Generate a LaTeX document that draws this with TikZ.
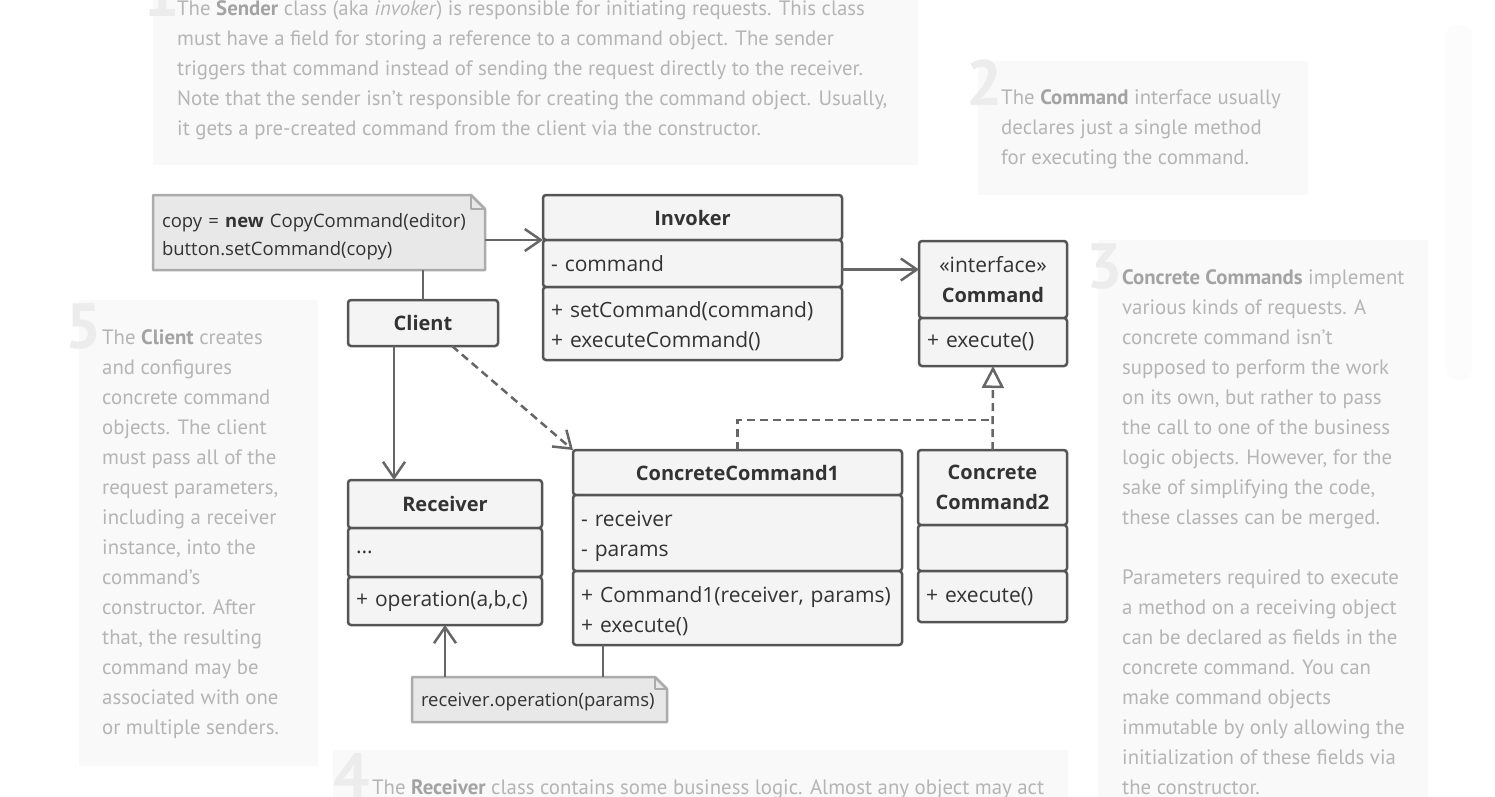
\documentclass[tikz,border=0pt]{standalone}
\usepackage{fontspec}
\setmainfont{Open Sans}
\newfontfamily\hintfont{PT Sans}
\usetikzlibrary{positioning,arrows.meta}

\definecolor{umlline}{HTML}{555555}
\definecolor{umlfill}{HTML}{F4F4F4}
\definecolor{umltext}{HTML}{333333}
\definecolor{memofill}{HTML}{E8E8E8}
\definecolor{memoline}{HTML}{ABABAB}
\definecolor{wireline}{HTML}{666666}
\definecolor{hintfill}{HTML}{F9F9F9}
\definecolor{hinttext}{HTML}{B5B5B5}
\definecolor{hintbold}{HTML}{A3A3A3}
\definecolor{hintnum}{HTML}{ECECEC}

\newcommand{\hintb}[1]{\textcolor{hintbold}{\textbf{#1}}}
\newcommand{\toprule}{\rule{0pt}{22pt}}

\tikzset{
  part/.style={draw=umlline, fill=umlfill, line width=2.5pt, rounded corners=3pt,
    anchor=north west, outer sep=0pt, inner xsep=8pt, inner ysep=0pt, text=umltext,
    font=\fontsize{21}{30}\selectfont},
  head/.style={part, align=center, font=\fontsize{20}{30}\selectfont\bfseries},
  body/.style={part, align=left},
  memo/.style={fill=memofill, anchor=north west, outer sep=0pt, inner xsep=9pt,
    inner ysep=0pt, align=left, text=umltext, font=\fontsize{18.5}{28}\selectfont},
  memoedge/.style={draw=memoline, line width=2.5pt, line join=round},
  wire/.style={draw=wireline, line width=2.5pt},
  assoc/.style={wire, -{Straight Barb[length=16pt,width=22pt]}},
  dep/.style={assoc, dash pattern=on 8pt off 5pt},
  real/.style={wire, dash pattern=on 8pt off 5pt},
  hintbox/.style={fill=hintfill},
  hint/.style={anchor=north west, inner sep=0pt, align=left, text=hinttext,
    font=\hintfont\fontsize{20.8}{30}\selectfont},
  hintno/.style={anchor=north west, inner sep=0pt, text=hintnum,
    font=\hintfont\bfseries\fontsize{64}{64}\selectfont}
}

\begin{document}
\begin{tikzpicture}[x=1pt,y=-1pt]
    \useasboundingbox (0,0) rectangle (1495,796);
    % Background hint boxes
    \fill[hintbox] (153,-10) rectangle (918,165);
    \fill[hintbox] (978,61) rectangle (1308,195);
    \fill[hintbox] (1098,240) rectangle (1428,810);
    \fill[hintbox] (333,750) rectangle (1068,810);
    \fill[hintbox] (79,300) rectangle (318,766);
    \fill[fill=hintfill!50!white, rounded corners=10pt] (1446,25) rectangle (1472,380);
    % Hint numbers
    \node[hintno] (no1) at (143,-29) {1};
    \node[hintno] (no2) at (966,60) {2};
    \node[hintno] (no3) at (1086,243) {3};
    \node[hintno] (no4) at (333,753) {4};
    \node[hintno] (no5) at (65,303) {5};
    % Hint texts
    \node[hint] (hint1) at (177,0.5) {The \hintb{Sender} class (aka \textit{invoker}) is responsible for initiating requests. This class\\
      must have a field for storing a reference to a command object. The sender\\
      triggers that command instead of sending the request directly to the receiver.\\
      Note that the sender isn’t responsible for creating the command object. Usually,\\
      it gets a pre-created command from the client via the constructor.};
    \node[hint] (hint2) at (1001,89.5) {The \hintb{Command} interface usually\\
      declares just a single method\\
      for executing the command.};
    \node[hint] (hint3) at (1122,269.5) {\hintb{Concrete Commands} implement\\
      various kinds of requests. A\\
      concrete command isn’t\\
      supposed to perform the work\\
      on its own, but rather to pass\\
      the call to one of the business\\
      logic objects. However, for the\\
      sake of simplifying the code,\\
      these classes can be merged.\\[30pt]
      Parameters required to execute\\
      a method on a receiving object\\
      can be declared as fields in the\\
      concrete command. You can\\
      make command objects\\
      immutable by only allowing the\\
      initialization of these fields via\\
      the constructor.};
    \node[hint] (hint4) at (372,779.5) {The \hintb{Receiver} class contains some business logic. Almost any object may act};
    \node[hint] (hint5) at (102,329.5) {The \hintb{Client} creates\\
      and configures\\
      concrete command\\
      objects. The client\\
      must pass all of the\\
      request parameters,\\
      including a receiver\\
      instance, into the\\
      command’s\\
      constructor. After\\
      that, the resulting\\
      command may be\\
      associated with one\\
      or multiple senders.};
    % Invoker class
    \node[head, minimum width=299, minimum height=45] (inv-h) at (543,195) {Invoker};
    \node[body, minimum width=299, text width=283, minimum height=47] (inv-a) at (543,240) {- command};
    \node[body, minimum width=299, text width=283, minimum height=73] (inv-m) at (543,287) {\toprule+ setCommand(command)\\+ executeCommand()};
    % Command interface
    \node[head, minimum width=148, minimum height=77] (cmd-h) at (919,241) {\mdseries\fontsize{21}{30}\selectfont«interface»\\\bfseries\fontsize{20}{30}\selectfont Command};
    \node[body, minimum width=148, text width=132, minimum height=48] (cmd-m) at (919,318) {+ execute()};
    % Client class
    \node[head, minimum width=150, minimum height=46] (cli) at (348,300) {Client};
    % Receiver class
    \node[head, minimum width=194, minimum height=48] (rcv-h) at (348,480) {Receiver};
    \node[body, minimum width=194, text width=178, minimum height=49] (rcv-a) at (348,528) {...};
    \node[body, minimum width=194, text width=178, minimum height=48] (rcv-m) at (348,577) {+ operation(a,b,c)};
    % Concrete commands
    \node[head, minimum width=329, minimum height=45] (cc1-h) at (573,450) {ConcreteCommand1};
    \node[body, minimum width=329, text width=313, minimum height=76] (cc1-a) at (573,495) {\toprule- receiver\\- params};
    \node[body, minimum width=329, text width=313, minimum height=74] (cc1-m) at (573,571) {\toprule+ Command1(receiver, params)\\+ execute()};
    \node[head, minimum width=149, minimum height=75] (cc2-h) at (918,450) {Concrete\\Command2};
    \node[body, minimum width=149, text width=133, minimum height=46] (cc2-a) at (918,525) {};
    \node[body, minimum width=149, text width=133, minimum height=51] (cc2-m) at (918,571) {+ execute()};
    % Notes with folded corner
    \node[memo, minimum width=332, text width=314, minimum height=75] (setup) at (153,195) {\toprule copy = \textbf{new} CopyCommand(editor)\\button.setCommand(copy)};
    \fill[white] ([xshift=-14pt]setup.north east) -- (setup.north east) -- ([yshift=-14pt]setup.north east) -- cycle;
    \draw[memoedge] (setup.south west) -- (setup.north west) -- ([xshift=-14pt]setup.north east)
      -- ([yshift=-14pt]setup.north east) -- (setup.south east) -- cycle;
    \draw[memoedge, line width=1.5pt] ([xshift=-14pt]setup.north east) -- ([xshift=-14pt,yshift=-14pt]setup.north east) -- ([yshift=-14pt]setup.north east);
    \node[memo, minimum width=255, text width=237, minimum height=45, text depth=0pt] (call) at (412,677) {receiver.operation(params)};
    \fill[white] ([xshift=-12pt]call.north east) -- (call.north east) -- ([yshift=-12pt]call.north east) -- cycle;
    \draw[memoedge] (call.south west) -- (call.north west) -- ([xshift=-12pt]call.north east)
      -- ([yshift=-12pt]call.north east) -- (call.south east) -- cycle;
    \draw[memoedge, line width=1.5pt] ([xshift=-12pt]call.north east) -- ([xshift=-12pt,yshift=-12pt]call.north east) -- ([yshift=-12pt]call.north east);
    % Connectors
    \draw[assoc] (setup.east |- inv-a.north) -- (inv-a.north west);
    \draw[wire] (cli.north) -- (cli.north |- setup.south);
    \draw[assoc] ([yshift=-6pt]inv-a.east) -- ([yshift=-6pt]inv-a.east -| cmd-h.west);
    \draw[assoc] ([xshift=46pt]cli.south west) -- ([xshift=46pt]rcv-h.north west);
    \draw[dep] ([xshift=104pt]cli.south west) -- (cc1-h.north west);
    \draw[real] (cc1-h.north) |- ([yshift=30pt]cc2-h.north);
    \draw[real, -{Triangle[length=22pt,width=22pt,fill=white]}] (cc2-h.north) -- (cmd-m.south);
    \draw[wire] ([xshift=30pt]cc1-m.south west) -- ([xshift=30pt]cc1-m.south west |- call.north);
    \draw[assoc] (rcv-m.south |- call.north) -- (rcv-m.south);
\end{tikzpicture}
\end{document}
